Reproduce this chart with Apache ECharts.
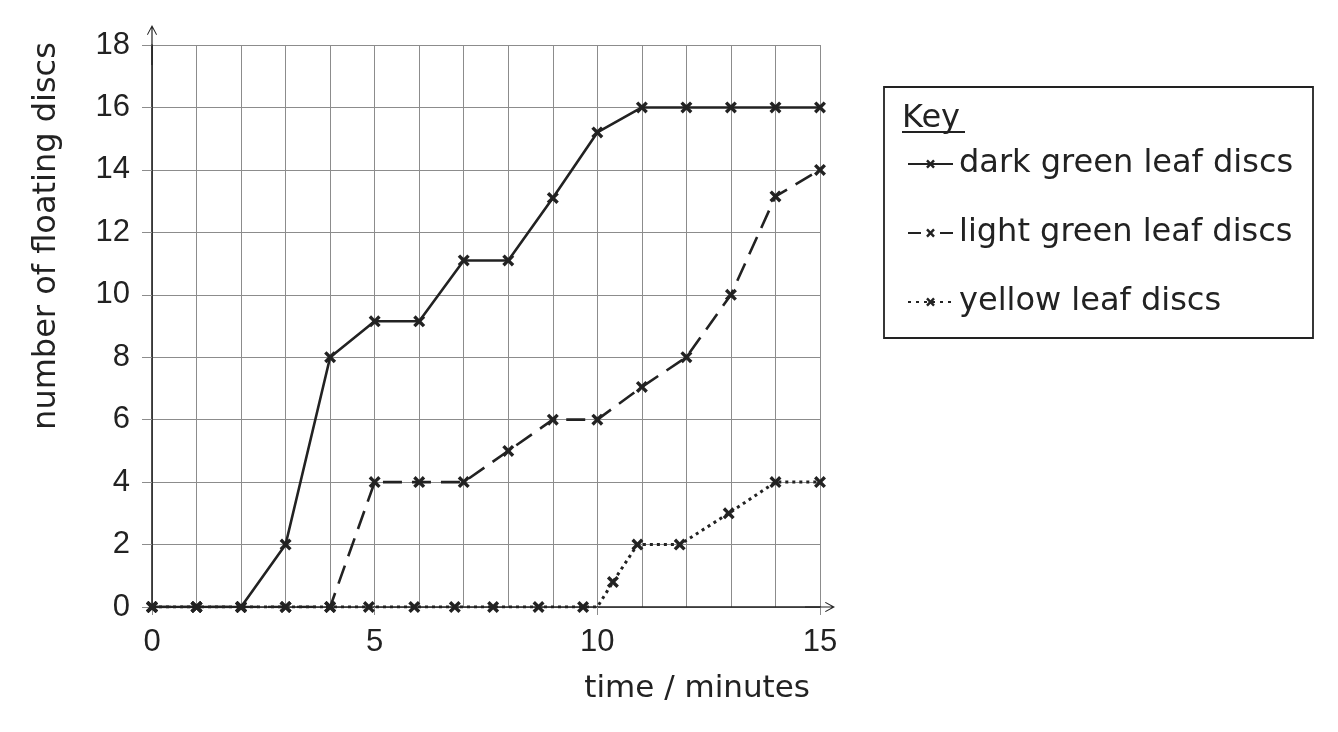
<!DOCTYPE html>
<html>
<head>
<meta charset="utf-8">
<script src="https://cdn.jsdelivr.net/npm/echarts@6/dist/echarts.min.js"></script>
<style>
  html, body { margin: 0; padding: 0; background: #fff; }
  #chart { width: 1338px; height: 732px; }
</style>
</head>
<body>
<div id="chart"></div>
<script>
// time in minutes and number of floating discs
const darkX = [0, 1, 2, 3, 4, 5, 6, 7, 8, 9, 10, 11, 12, 13, 14, 15];
const darkY = [0, 0, 0, 2, 8, 9.15, 9.15, 11.1, 11.1, 13.1, 15.2, 16, 16, 16, 16, 16];

const lightX = [0, 1, 2, 3, 4, 5, 6, 7, 8, 9, 10, 11, 12, 13, 14, 15];
const lightY = [0, 0, 0, 0, 0, 4, 4, 4, 5, 6, 6, 7.05, 8, 10, 13.15, 14];

const yellowX = [0, 1, 2, 3, 4, 4.87, 5.89, 6.8, 7.66, 8.68, 9.68, 10, 10.35, 10.9, 11.85, 12.95, 14, 15];
const yellowY = [0, 0, 0, 0, 0, 0, 0, 0, 0, 0, 0, 0, 0.8, 2, 2, 3, 4, 4];
// bend of the yellow line that has no cross drawn on it
const yellowNoMark = [11];

const seriesNames = ["dark green leaf discs", "light green leaf discs", "yellow leaf discs"];
const xTicks = [0, 5, 10, 15];
const yTicks = [0, 2, 4, 6, 8, 10, 12, 14, 16, 18];

const ink = "#222";
const gridGray = "#8c8c8c";
const wordFont = "DejaVu Sans";
const digitFont = "Liberation Sans";

// thick "x" marker
const cross = "path://M2,0 L5,3 L8,0 L10,2 L7,5 L10,8 L8,10 L5,7 L2,10 L0,8 L3,5 L0,2 Z";
// open arrow head with a stem, so the axis line runs on past the last tick
const arrowY = "path://M5,0 L10,9.4 L9.2,10 L5.6,3.2 L5.6,40 L4.4,40 L4.4,3.2 L0.8,10 L0,9.4 Z";
const arrowX = "path://M5,0 L10,9.4 L9.2,10 L5.6,3.2 L5.6,30 L4.4,30 L4.4,3.2 L0.8,10 L0,9.4 Z";

function pairs(xs, ys) {
  return xs.map((x, i) => [x, ys[i]]);
}

const yellowData = pairs(yellowX, yellowY).map((p, i) =>
  yellowNoMark.includes(i) ? { value: p, symbol: "none" } : p
);

const myChart = echarts.init(document.getElementById("chart"));

const option = {
  backgroundColor: "#fff",
  animation: false,
  grid: {
    left: 152,
    right: 518,
    top: 45,
    bottom: 125
  },
  xAxis: {
    type: "value",
    min: xTicks[0],
    max: xTicks[xTicks.length - 1],
    interval: 5,
    name: "time / minutes",
    nameLocation: "end",
    nameGap: -10,
    nameTextStyle: {
      fontFamily: wordFont,
      fontSize: 31,
      color: ink,
      align: "right",
      verticalAlign: "top",
      padding: [66, 0, 0, 0]
    },
    axisLine: {
      lineStyle: { color: ink, width: 1.6 },
      symbol: ["none", arrowX],
      symbolSize: [11, 30]
    },
    axisTick: { show: true, length: 8, lineStyle: { color: gridGray } },
    minorTick: { show: false, splitNumber: 5 },
    axisLabel: {
      margin: 20,
      fontFamily: digitFont,
      fontSize: 31,
      color: ink
    },
    splitLine: { show: true, lineStyle: { color: gridGray, width: 1 } },
    minorSplitLine: { show: true, lineStyle: { color: gridGray, width: 1 } }
  },
  yAxis: {
    type: "value",
    min: yTicks[0],
    max: yTicks[yTicks.length - 1],
    interval: 2,
    name: "number of floating discs",
    nameLocation: "middle",
    nameGap: 89,
    nameTextStyle: {
      fontFamily: wordFont,
      fontSize: 32,
      color: ink,
      padding: [0, 0, 0, 180]
    },
    axisLine: {
      show: true,
      lineStyle: { color: ink, width: 1.6 },
      symbol: ["none", arrowY],
      symbolSize: [11, 40]
    },
    axisTick: { show: true, length: 10, lineStyle: { color: gridGray } },
    axisLabel: {
      margin: 22,
      fontFamily: digitFont,
      fontSize: 31,
      color: ink
    },
    splitLine: { show: true, lineStyle: { color: gridGray, width: 1 } }
  },
  legend: {
    orient: "vertical",
    left: 902,
    top: 142,
    itemWidth: 45,
    itemHeight: 11,
    itemGap: 35,
    selectedMode: false,
    textStyle: {
      fontFamily: wordFont,
      fontSize: 32,
      color: ink,
      lineHeight: 34,
      padding: [0, 0, 0, 1]
    },
    data: [
      { name: seriesNames[0] },
      { name: seriesNames[1], lineStyle: { type: [13, 19] } },
      { name: seriesNames[2], lineStyle: { type: [3, 5] } }
    ]
  },
  graphic: [
    {
      type: "rect",
      shape: { x: 884, y: 87, width: 429, height: 251 },
      style: { fill: "none", stroke: ink, lineWidth: 1.8 },
      silent: true
    },
    {
      type: "text",
      left: 902,
      top: 103,
      style: {
        text: "Key",
        fontFamily: wordFont,
        fontSize: 32,
        fill: ink
      },
      silent: true
    },
    {
      type: "line",
      shape: { x1: 902, y1: 132, x2: 965, y2: 132 },
      style: { stroke: ink, lineWidth: 1.8 },
      silent: true
    }
  ],
  series: [
    {
      name: seriesNames[0],
      type: "line",
      data: pairs(darkX, darkY),
      symbol: cross,
      symbolSize: 12,
      itemStyle: { color: ink },
      lineStyle: { color: ink, width: 2.6, type: "solid" },
      z: 3
    },
    {
      name: seriesNames[1],
      type: "line",
      data: pairs(lightX, lightY),
      symbol: cross,
      symbolSize: 12,
      itemStyle: { color: ink },
      lineStyle: { color: ink, width: 2.6, type: [19, 10] },
      z: 4
    },
    {
      name: seriesNames[2],
      type: "line",
      data: yellowData,
      symbol: cross,
      symbolSize: 12,
      itemStyle: { color: ink },
      lineStyle: { color: ink, width: 3, type: [3, 4] },
      z: 5
    }
  ]
};

myChart.setOption(option);
</script>
</body>
</html>
